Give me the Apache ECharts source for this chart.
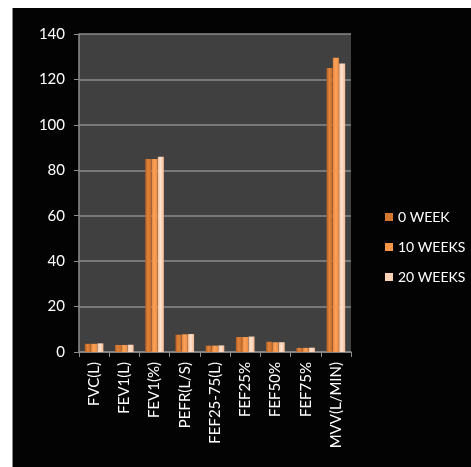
<!DOCTYPE html>
<html><head><meta charset="utf-8">
<script src="https://cdn.jsdelivr.net/npm/echarts@6/dist/echarts.min.js"></script>
<style>
html,body{margin:0;padding:0;background:#fff;width:471px;height:467px;overflow:hidden;}
#c{position:absolute;left:12px;top:8px;width:458px;height:459px;border-left:1px solid #8a8a8a;background:#030303;}
</style></head><body>
<div id="c"></div>
<script>
const categories = ['FVC(L)','FEV1(L)','FEV1(%)','PEFR(L/S)','FEF25-75(L)','FEF25%','FEF50%','FEF75%','MVV(L/MIN)'];
const week0  = [3.6, 3.1, 85, 7.6, 2.8, 6.6, 4.5, 1.8, 125];
const week10 = [3.6, 3.1, 85, 7.8, 2.8, 6.6, 4.3, 1.8, 129.5];
const week20 = [3.8, 3.2, 86, 7.9, 2.9, 6.8, 4.3, 1.9, 127];
const seriesNames = ['0 WEEK','10 WEEKS','20 WEEKS'];
const yTicks = {min:0, max:140, interval:20};

function grad(a,b,c){
  return new echarts.graphic.LinearGradient(0,0,1,0,[
    {offset:0,color:a},{offset:0.45,color:b},{offset:1,color:c}]);
}
const colors = [
  grad('#b65f22','#e0833a','#c76b2a'),
  grad('#e9853a','#fba25a','#ee8c40'),
  grad('#f7c3a0','#fde2cf','#f4b88f')
];
const legendColors = ['#d5772f','#f79646','#fbd0b3'];
const chart = echarts.init(document.getElementById('c'));
const font = 'Lato, "Open Sans", sans-serif';
chart.setOption({
  animation:false,
  backgroundColor:'#030303',
  textStyle:{fontFamily:font},
  grid:{left:66,right:120,top:26,bottom:115,show:true,backgroundColor:'#404040',borderWidth:0},
  legend:{
    orient:'vertical', left:367, top:197, itemWidth:8, itemHeight:8, itemGap:16,
    icon:'rect',
    textStyle:{color:'#ffffff',fontSize:14,fontFamily:font},
    data:seriesNames.map((n,i)=>({name:n,itemStyle:{color:legendColors[i]}}))
  },
  xAxis:{
    type:'category', data:categories,
    axisLine:{show:true,lineStyle:{color:'#8c8c8c',width:1.5}},
    axisTick:{show:true,length:5,lineStyle:{color:'#8c8c8c'}},
    axisLabel:{color:'#ffffff',rotate:90,fontSize:15,margin:10,fontFamily:font}
  },
  yAxis:{
    type:'value', min:yTicks.min, max:yTicks.max, interval:yTicks.interval,
    axisLine:{show:true,lineStyle:{color:'#8c8c8c',width:1.5}},
    axisTick:{show:true,length:5,lineStyle:{color:'#8c8c8c'}},
    axisLabel:{color:'#ffffff',fontSize:15,margin:14,fontFamily:font},
    splitLine:{show:true,lineStyle:{color:'#8a8a8a',width:1.5}}
  },
  series:[week0,week10,week20].map((d,i)=>({
    name:seriesNames[i], type:'bar', data:d, barWidth:6, barGap:'5%',
    itemStyle:{color:colors[i]}
  }))
});
</script>
</body></html>
